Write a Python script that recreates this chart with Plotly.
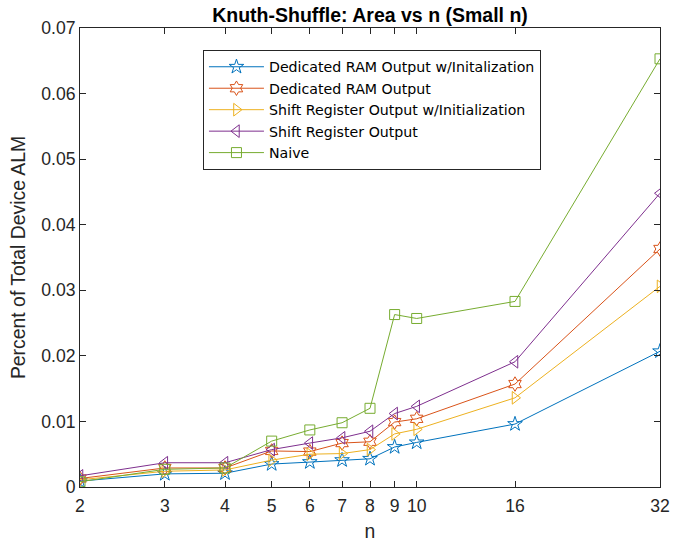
import plotly.graph_objects as go
import numpy as np

n_vals = [2, 3, 4, 5, 6, 7, 8, 9, 10, 16, 32]
ram_init = [0.0009, 0.0020, 0.0021, 0.0035, 0.0038, 0.0041, 0.0043, 0.0061, 0.0068, 0.0096, 0.0207]
ram_out = [0.0013, 0.0029, 0.0029, 0.0055, 0.0054, 0.0067, 0.0069, 0.0099, 0.0104, 0.0157, 0.0363]
sr_init = [0.0011, 0.0024, 0.0026, 0.0041, 0.0050, 0.0051, 0.0057, 0.0081, 0.0088, 0.0136, 0.0306]
sr_out = [0.0017, 0.0037, 0.0037, 0.0057, 0.0067, 0.0075, 0.0085, 0.0112, 0.0123, 0.0191, 0.0448]
naive = [0.0008, 0.0027, 0.0029, 0.0070, 0.0087, 0.0098, 0.0120, 0.0263, 0.0257, 0.0283, 0.0653]

series = [
    ("Dedicated RAM Output w/Initalization", ram_init, "#0072BD", "star-open", 11),
    ("Dedicated RAM Output", ram_out, "#D95319", "hexagram-open", 11),
    ("Shift Register Output w/Initialization", sr_init, "#EDB120", "triangle-right-open", 11),
    ("Shift Register Output", sr_out, "#7E2F8E", "triangle-left-open", 11),
    ("Naive", naive, "#77AC30", "square-open", 10),
]

fig = go.Figure()
for name, vals, color, sym, msize in series:
    fig.add_trace(go.Scatter(
        x=n_vals, y=vals, name=name, mode="lines+markers",
        line=dict(color=color, width=1),
        marker=dict(symbol=sym, size=msize, color=color, line=dict(color=color, width=1)),
    ))

font = "Liberation Sans, Arial, sans-serif"
fig.update_layout(
    width=673, height=542,
    margin=dict(l=80, r=13, t=28, b=55),
    paper_bgcolor="white", plot_bgcolor="white",
    font=dict(family=font, size=17.6, color="#262626"),
    title=dict(text="<b>Knuth-Shuffle: Area vs n (Small n)</b>", x=0.5, xanchor="center",
               xref="paper", y=0.972, yanchor="middle", font=dict(size=19.5, color="black")),
    legend=dict(x=0.212, y=0.952, xanchor="left", yanchor="top",
                bordercolor="#262626", borderwidth=1, bgcolor="white",
                font=dict(family="DejaVu Sans, sans-serif", size=14.2, color="black"),
                itemwidth=55, tracegroupgap=0),
    showlegend=True,
)
fig.update_xaxes(
    type="log", range=[np.log10(2), np.log10(32)], automargin=False,
    tickvals=n_vals, ticktext=[str(v) for v in n_vals], ticklabelstandoff=3,
    ticks="inside", ticklen=6, tickcolor="#262626", showline=True, linecolor="#262626",
    mirror="ticks", showgrid=False, zeroline=False,
    title=dict(text="n", font=dict(size=19.4), standoff=9),
)
fig.update_yaxes(
    range=[0, 0.07], automargin=False,
    tickvals=[0, 0.01, 0.02, 0.03, 0.04, 0.05, 0.06, 0.07],
    ticktext=["0", "0.01", "0.02", "0.03", "0.04", "0.05", "0.06", "0.07"],
    ticks="inside", ticklen=6, tickcolor="#262626", showline=True, linecolor="#262626",
    mirror="ticks", showgrid=False, zeroline=False,
    title=dict(text="Percent of Total Device ALM", font=dict(size=19.4), standoff=10),
)
fig.write_html("out.html")
